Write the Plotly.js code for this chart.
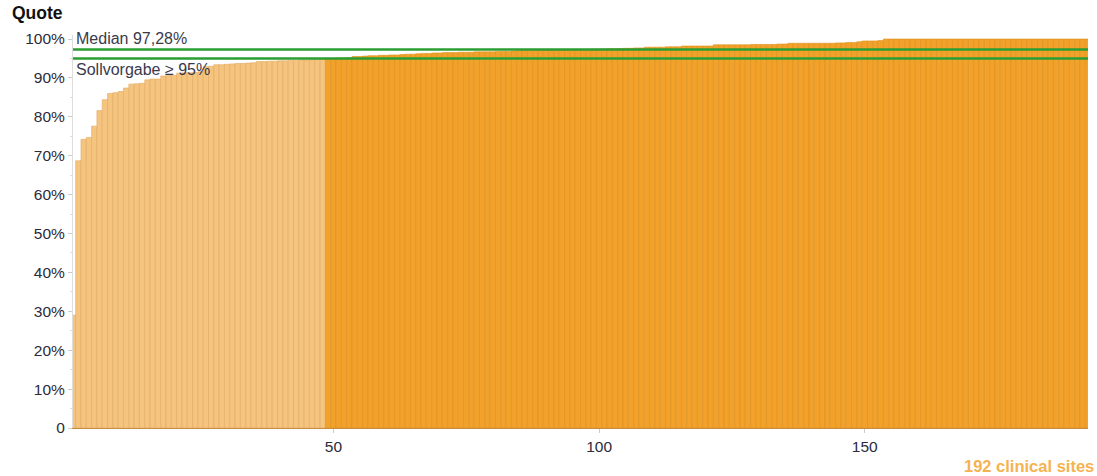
<!DOCTYPE html>
<html>
<head>
<meta charset="utf-8">
<script src="https://cdn.plot.ly/plotly-3.0.1.min.js"></script>
<style>
  html, body { margin: 0; padding: 0; background: #ffffff; }
  #chart { width: 1097px; height: 476px; }
</style>
</head>
<body>
<div id="chart"></div>
<script>
// ---- Data ----
const siteRates = [
  29.0, 68.7, 74.2, 74.7, 77.6, 81.6, 84.4, 86.0, 86.2, 86.5,
  87.4, 88.4, 88.5, 88.6, 89.5, 89.7, 89.7, 90.5, 90.6, 90.7,
  91.2, 91.3, 91.3, 91.4, 91.6, 92.9, 93.0, 93.4, 93.4, 93.5,
  93.6, 93.7, 93.7, 93.8, 93.9, 94.2, 94.2, 94.3, 94.3, 94.4,
  94.4, 94.5, 94.5, 94.6, 94.6, 94.7, 94.8, 94.9,
  95.0, 95.0, 95.1, 95.1, 95.2,
  95.5, 95.5, 95.6,
  95.7, 95.7, 95.8, 95.8,
  95.9, 95.9,
  96.0,
  96.1, 96.1,
  96.2, 96.3, 96.3,
  96.4, 96.4, 96.5, 96.5, 96.5, 96.6, 96.6, 96.6,
  96.7, 96.7, 96.7, 96.7,
  96.8, 96.8, 96.8,
  96.9, 97.0,
  97.1, 97.1, 97.1, 97.15, 97.15, 97.2, 97.2, 97.2, 97.22, 97.24,
  97.25, 97.31,
  97.35, 97.4, 97.4, 97.45, 97.5, 97.5, 97.55, 97.6, 97.6,
  97.7, 97.7,
  97.9, 97.9, 97.9, 97.9,
  98.0, 98.0, 98.0,
  98.2, 98.2, 98.2, 98.2, 98.2, 98.2,
  98.5, 98.5, 98.5, 98.5, 98.5, 98.5, 98.5,
  98.6, 98.6, 98.6, 98.6, 98.6,
  98.7, 98.7,
  98.9, 98.9, 98.9, 98.9, 98.9, 98.9, 98.9, 98.9, 98.9,
  99.0, 99.0,
  99.1, 99.1,
  99.3,
  99.5, 99.5, 99.5,
  99.6,
  100, 100, 100, 100, 100, 100, 100, 100, 100, 100,
  100, 100, 100, 100, 100, 100, 100, 100, 100, 100,
  100, 100, 100, 100, 100, 100, 100, 100, 100, 100,
  100, 100, 100, 100, 100, 100, 100, 100, 100
];
const siteIndex = siteRates.map((_, i) => i + 1);
const medianValue = 97.28;
const targetValue = 95;
const yTickVals = [0, 10, 20, 30, 40, 50, 60, 70, 80, 90, 100];
const yTickText = ["0", "10%", "20%", "30%", "40%", "50%", "60%", "70%", "80%", "90%", "100%"];
const xTickVals = [50, 100, 150];
const medianLabel = "Median 97,28%";
const targetLabel = "Sollvorgabe \u2265 95%";
const yTitle = "Quote";
const xLabel = siteRates.length + " clinical sites";

// ---- Styles ----
const lightFill = "#F5C47F";
const darkFill = "#F2A22B";
const lightEdge = "#E3AA62";
const darkEdge = "#DC901D";
const green = "#2A9E32";
const fontFam = "Liberation Sans, Arial, sans-serif";

const fillColors = siteRates.map(v => v < targetValue ? lightFill : darkFill);
const edgeColors = siteRates.map(v => v < targetValue ? lightEdge : darkEdge);

const trace = {
  type: "bar",
  x: siteIndex,
  y: siteRates,
  width: 1,
  marker: { color: fillColors, line: { color: edgeColors, width: 0.6 } },
  hoverinfo: "x+y"
};

const layout = {
  width: 1097, height: 476,
  margin: { l: 73, r: 9, t: 35, b: 48, pad: 0 },
  paper_bgcolor: "#ffffff",
  plot_bgcolor: "#ffffff",
  showlegend: false,
  bargap: 0,
  font: { family: fontFam, size: 15, color: "#333333" },
  xaxis: {
    range: [1, 192],
    tickvals: xTickVals,
    ticks: "outside", ticklen: 4, tickcolor: "#cccccc",
    showgrid: false, zeroline: false,
    showline: true, linecolor: "#C98F3E", linewidth: 1,
    tickfont: { family: fontFam, size: 15.5, color: "#2b2b3a" }
  },
  yaxis: {
    range: [0, 101.03],
    tickvals: yTickVals, ticktext: yTickText,
    ticks: "outside", ticklen: 4, tickcolor: "#cccccc",
    minor: { dtick: 5, ticks: "outside", ticklen: 2, tickcolor: "#dddddd" },
    showgrid: false, zeroline: false,
    showline: true, linecolor: "#dddddd", linewidth: 1,
    tickfont: { family: fontFam, size: 15.5, color: "#2b2b3a" }
  },
  shapes: [
    { type: "line", xref: "paper", x0: 0, x1: 1, yref: "y", y0: medianValue, y1: medianValue,
      line: { color: green, width: 2.5 } },
    { type: "line", xref: "paper", x0: 0, x1: 1, yref: "y", y0: targetValue, y1: targetValue,
      line: { color: green, width: 2.5 } }
  ],
  annotations: [
    { text: medianLabel, xref: "paper", x: 0, xanchor: "left", xshift: 1,
      yref: "y", y: medianValue, yanchor: "bottom", yshift: 1, showarrow: false,
      font: { family: fontFam, size: 16, color: "#3a3a4c" } },
    { text: targetLabel, xref: "paper", x: 0, xanchor: "left", xshift: 1,
      yref: "y", y: targetValue, yanchor: "top", yshift: -1, showarrow: false,
      font: { family: fontFam, size: 16, color: "#3a3a4c" } },
    { text: "<b>" + yTitle + "</b>", xref: "paper", x: -0.0079, xanchor: "right",
      yref: "paper", y: 1.057, yanchor: "middle", showarrow: false,
      font: { family: fontFam, size: 17.5, color: "#111111" } },
    { text: "<b>" + xLabel + "</b>", xref: "paper", x: 0.876, xanchor: "left",
      yref: "paper", y: -0.097, yanchor: "middle", showarrow: false,
      font: { family: fontFam, size: 16.5, color: "#F5B24F" } }
  ]
};

Plotly.newPlot("chart", [trace], layout, { displayModeBar: false, staticPlot: true });
</script>
</body>
</html>
